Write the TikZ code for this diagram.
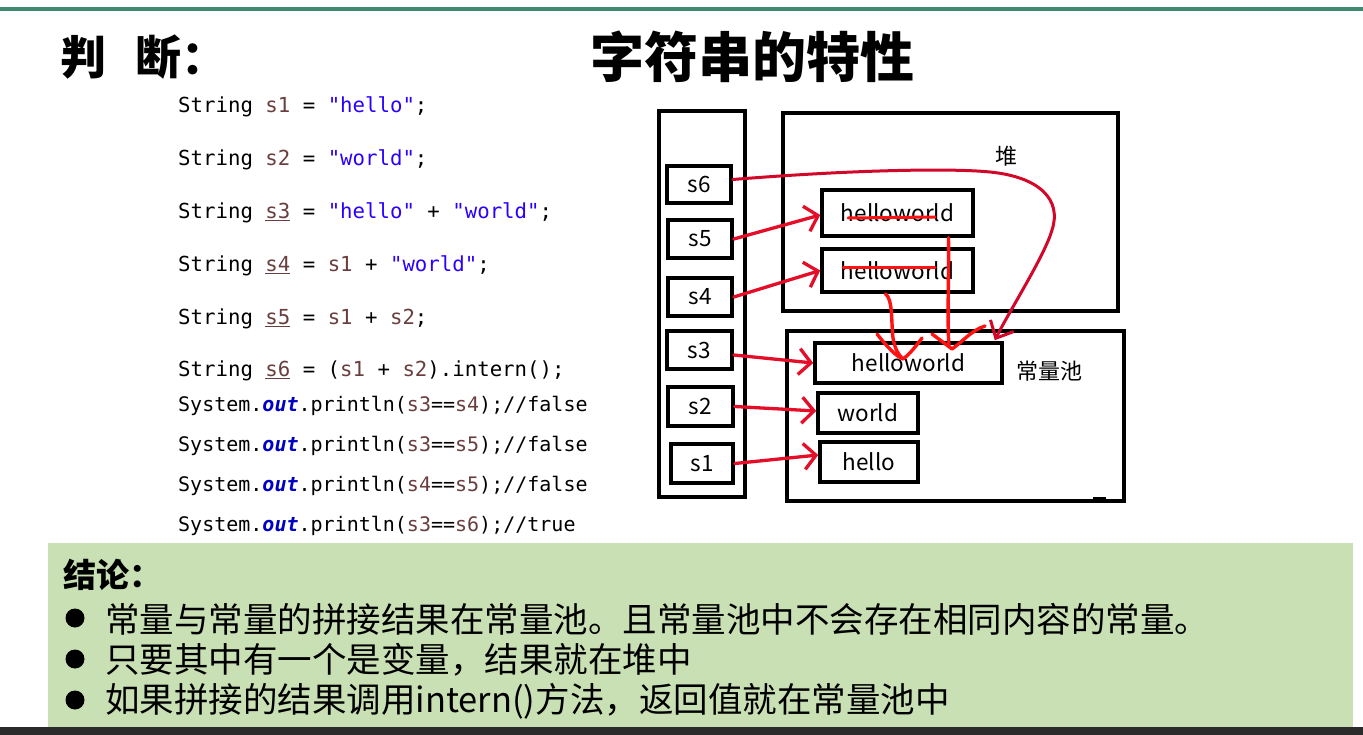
\documentclass[tikz,border=0pt]{standalone}
\usepackage{fontspec}
\setmonofont{DejaVu Sans Mono}
\newfontfamily\cjk{Noto Sans CJK SC}
\usetikzlibrary{arrows.meta}
\definecolor{idcol}{RGB}{106,62,62}
\definecolor{strcol}{RGB}{42,0,255}
\definecolor{outcol}{RGB}{0,0,192}
\definecolor{arrred}{RGB}{228,14,40}
\definecolor{squigred}{RGB}{255,18,18}
\definecolor{s6red}{RGB}{210,8,42}
\definecolor{concl}{RGB}{201,224,180}
\definecolor{topgreen}{RGB}{62,138,112}
\definecolor{darkbar}{RGB}{43,43,43}
\newcommand\idc[1]{\textcolor{idcol}{#1}}
\newcommand\strc[1]{\textcolor{strcol}{#1}}
\newcommand\uid[1]{\textcolor{idcol}{\underline{#1}}}
\newcommand\outk{\textcolor{outcol}{\textbf{\textit{out}}}}
\begin{document}
\begin{tikzpicture}[x=1pt,y=-1pt,
  box/.style={draw, line width=3.6pt, inner sep=0pt, font=\cjk\fontsize{22.5}{22.5}\selectfont},
  sarr/.style={draw=arrred, line width=3.3pt, line cap=round, -{Straight Barb[length=12pt,width=26pt]}},
  s6arr/.style={draw=s6red, line width=3pt, line cap=round, -{Straight Barb[length=14pt,width=26pt]}},
  squig/.style={draw=squigred, line width=3.4pt, line cap=round, line join=round},
  strike/.style={draw=squigred, line width=3pt, line cap=round},
  codeA/.style={anchor=base west, inner sep=0pt, font=\ttfamily\fontsize{20.7}{24}\selectfont},
  codeB/.style={anchor=base west, inner sep=0pt, font=\ttfamily\fontsize{20}{24}\selectfont},
  lbl/.style={inner sep=0pt, font=\cjk\fontsize{22}{22}\selectfont},
  bullettext/.style={anchor=west, inner sep=0pt, font=\cjk\fontsize{34.5}{36}\selectfont},
  dot/.style={circle, fill=black, inner sep=0pt, minimum size=19pt}
]
\useasboundingbox (0,0) rectangle (1363,735);
\fill[white] (0,0) rectangle (1363,735);
% top rule
\fill[topgreen] (0,7) rectangle (1363,11);
% headings
\node[anchor=west, inner sep=0pt, font=\cjk\bfseries\fontsize{46}{46}\selectfont] (judge) at (60,57) {判\hspace{29pt}断：};
\node[inner sep=0pt, font=\cjk\bfseries\fontsize{54}{54}\selectfont] (title) at (752,57) {字符串的特性};
% code
\node[codeA] (c1) at (178,113) {String \idc{s1} = \strc{"hello"};};
\node[codeA] (c2) at (178,166) {String \idc{s2} = \strc{"world"};};
\node[codeA] (c3) at (178,219) {String \uid{s3} = \strc{"hello"} + \strc{"world"};};
\node[codeA] (c4) at (178,272) {String \uid{s4} = \idc{s1} + \strc{"world"};};
\node[codeA] (c5) at (178,325) {String \uid{s5} = \idc{s1} + \idc{s2};};
\node[codeA] (c6) at (178,377) {String \uid{s6} = (\idc{s1} + \idc{s2}).intern();};
\node[codeB] (c7) at (178,411) {System.\outk.println(\idc{s3}==\idc{s4});//false};
\node[codeB] (c8) at (178,451) {System.\outk.println(\idc{s3}==\idc{s5});//false};
\node[codeB] (c9) at (178,491) {System.\outk.println(\idc{s4}==\idc{s5});//false};
\node[codeB] (c10) at (178,531) {System.\outk.println(\idc{s3}==\idc{s6});//true};
% stack
\node[box, minimum width=86pt, minimum height=386pt] (stack) at (702,304) {};
\node[box, minimum width=64pt, minimum height=37pt] (s6) at (699,184.5) {s6};
\node[box, minimum width=64pt, minimum height=38pt] (s5) at (700,239) {s5};
\node[box, minimum width=64pt, minimum height=38pt] (s4) at (700,297) {s4};
\node[box, minimum width=65pt, minimum height=38pt] (s3) at (699.5,350) {s3};
\node[box, minimum width=65pt, minimum height=39pt] (s2) at (700.5,406.5) {s2};
\node[box, minimum width=62pt, minimum height=39pt] (s1) at (702,463.5) {s1};
% heap
\node[box, minimum width=335pt, minimum height=198pt] (heap) at (950.5,212) {};
\node[lbl] (heaplbl) at (1006,156) {堆};
\node[box, minimum width=151pt, minimum height=46pt] (hw1) at (897.5,213) {helloworld\hspace{7pt}};
\node[box, minimum width=151pt, minimum height=43pt] (hw2) at (897.5,270.5) {helloworld\hspace{12pt}};
% pool
\node[box, minimum width=337pt, minimum height=170pt] (pool) at (955.5,416) {};
\node[lbl] (poollbl) at (1049,371) {常量池};
\node[box, minimum width=187pt, minimum height=40pt] (hw3) at (908.5,363) {helloworld\hspace{18pt}};
\node[box, minimum width=100pt, minimum height=40pt] (world) at (868,413) {world\hspace{20pt}};
\node[box, minimum width=98pt, minimum height=40pt] (hello) at (869,462) {hello\hspace{26pt}};
\fill[black] (1093,497) rectangle (1106,501);
% strike-throughs
\draw[strike] (848,218) -- (935,217);
\draw[strike] (843,268) -- (935,268);
% arrows from stack
\draw[sarr] (s5.east) -- ([yshift=-2pt]hw1.west);
\draw[sarr] (s4.east) -- (hw2.west);
\draw[sarr] ([yshift=-5pt]s3.east) -- (hw3.west);
\draw[sarr] (s2.east) -- ([yshift=2pt]world.west);
\draw[sarr] (s1.east) -- ([yshift=7pt]hello.west);
\draw[s6arr] ([yshift=5pt]s6.east) .. controls (850,170) and (950,168) .. (990,172)
  .. controls (1040,177) and (1062,200) .. (1052,230)
  .. controls (1045,255) and (1010,310) .. ([xshift=-9pt,yshift=1pt]hw3.north east);
% squiggles from heap to pool
\draw[squig] ([xshift=-12pt]hw2.south) .. controls (893,300) and (891,320) .. (893,338) .. controls (895,350) and (899,355) .. (902,358);
\draw[squig] (877,334) .. controls (888,348) and (896,356) .. (903,359) .. controls (910,354) and (916,346) .. (922,338);
\draw[squig] ([xshift=51pt]hw1.south) .. controls (949,280) and (947,320) .. (949,346);
\draw[squig] (932,334) -- (952,349) .. controls (962,342) and (972,330) .. (985,326);
% conclusion box
\fill[concl] (48,543) rectangle (1353,727);
\fill[darkbar] (0,727) rectangle (1363,735);
\node[anchor=west, inner sep=0pt, font=\cjk\bfseries\fontsize{33}{33}\selectfont] (conc) at (63,575) {结论：};
\node[dot] (d1) at (75,618) {};
\node[dot] (d2) at (75,659) {};
\node[dot] (d3) at (75,700) {};
\node[bullettext] (t1) at (105,619) {常量与常量的拼接结果在常量池。且常量池中不会存在相同内容的常量。};
\node[bullettext] (t2) at (105,660) {只要其中有一个是变量，结果就在堆中};
\node[bullettext] (t3) at (105,701) {如果拼接的结果调用intern()方法，返回值就在常量池中};
\end{tikzpicture}
\end{document}
